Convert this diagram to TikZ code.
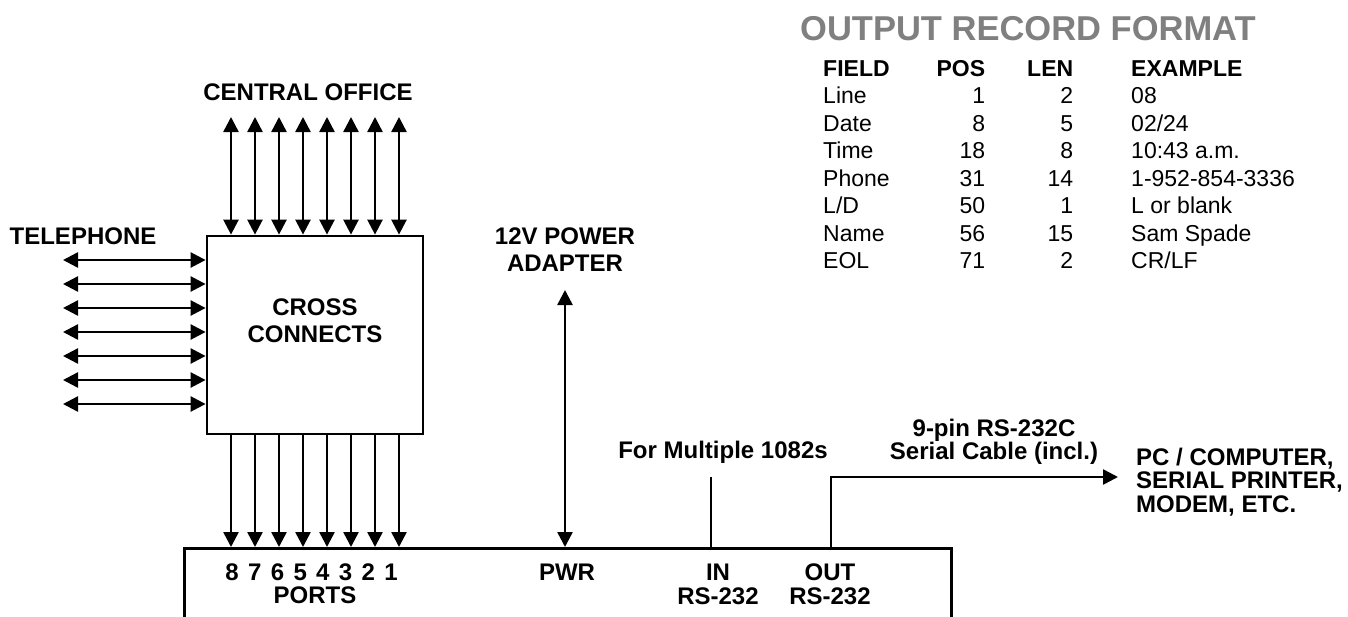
\documentclass[tikz,border=0pt]{standalone}
\usepackage{fontspec}
\setmainfont{Liberation Sans}
\usepackage{array}
\usepackage{tikz}
\usetikzlibrary{arrows.meta,positioning}
\definecolor{heading}{HTML}{808080}

\begin{document}
\begin{tikzpicture}[x=1pt,y=-1pt,>={Triangle[length=15pt,width=15pt]},
  blk/.style={draw,line width=2.8pt,inner sep=0pt},
  wire/.style={line width=2.5pt},
  arr/.style={->,line width=2.5pt},
  dbl/.style={<->,line width=2.5pt},
  lbl/.style={font=\fontsize{24}{27}\selectfont\bfseries,align=center,inner sep=0pt}]
\useasboundingbox (0,0) rectangle (1348,616);
\clip (0,0) rectangle (1348,616);

% blocks (unit runs off the bottom edge)
\node[blk,minimum width=216pt,minimum height=198pt] (cc) at (315,335) {};
\node[lbl] (ccl) at (315,321) {CROSS\\CONNECTS};
\node[blk,minimum width=767pt,minimum height=120pt,anchor=north west] (unit) at (183,547) {};

% lines to the central office and down to the ports
\node[lbl] (office) at (308,92) {CENTRAL OFFICE};
\foreach \i [evaluate=\i as \px using 399-24*(\i-1),
             evaluate=\i as \dx using 391-22.7*(\i-1)] in {1,...,8} {
  \coordinate (co\i) at (\px,117);
  \draw[dbl] (co\i) -- (co\i |- cc.north);
  \draw[arr] (co\i |- cc.south) -- (co\i |- unit.north);
  \node[lbl] (port\i) at (\dx,572) {\i};
}
\node[lbl] (ports) at (315,595) {PORTS};

% telephone lines
\node[lbl] (tel) at (83,236) {TELEPHONE};
\foreach \j in {1,...,7} {
  \coordinate (tel\j) at (63,236+24*\j);
  \draw[dbl] (tel\j) -- (tel\j -| cc.west);
}

% power
\node[lbl] (psu) at (565,250) {12V POWER\\ADAPTER};
\coordinate (pwrtop) at (565,290);
\draw[dbl] (pwrtop) -- (pwrtop |- unit.north);
\node[lbl] (pwr) at (567,572) {PWR};

% serial in / out
\node[lbl,font=\fontsize{24}{24}\selectfont\bfseries] (in) at (718,584) {IN\\RS-232};
\node[lbl,font=\fontsize{24}{24}\selectfont\bfseries] (out) at (830,584) {OUT\\RS-232};
\node[lbl] (multi) at (723,452) {For Multiple 1082s};
\coordinate (intop) at (711,477);
\draw[wire] (intop) -- (intop |- unit.north);
\node[lbl,font=\fontsize{24}{22}\selectfont\bfseries] (cable) at (994,442) {9-pin RS-232C\\Serial Cable (incl.)};
\node[lbl,font=\fontsize{24}{23.5}\selectfont\bfseries,align=left,anchor=west] (pc) at (1136,482) {PC / COMPUTER,\\SERIAL PRINTER,\\MODEM, ETC.};
\coordinate (outtop) at (831,477);
\draw[arr] (outtop |- unit.north) -- (outtop) -- ([xshift=-18pt]pc.west |- outtop);

% record format table
\node[anchor=base west,inner sep=0pt,text=heading,font=\fontsize{34.5}{40}\selectfont\bfseries] (title) at (800,40) {OUTPUT RECORD FORMAT};
\node[anchor=base west,inner sep=0pt,font=\fontsize{23}{27.5}\selectfont] (tab) at (823,76) {%
  \begin{tabular}[t]{@{}w{l}{100pt}@{}w{r}{62pt}@{}w{r}{88pt}@{\hspace{58pt}}l@{}}
  \textbf{FIELD} & \textbf{POS} & \textbf{LEN} & \textbf{EXAMPLE}\\
  Line  & 1  & 2  & 08\\
  Date  & 8  & 5  & 02/24\\
  Time  & 18 & 8  & 10:43 a.m.\\
  Phone & 31 & 14 & 1-952-854-3336\\
  L/D   & 50 & 1  & L or blank\\
  Name  & 56 & 15 & Sam Spade\\
  EOL   & 71 & 2  & CR/LF
  \end{tabular}};
\end{tikzpicture}
\end{document}
